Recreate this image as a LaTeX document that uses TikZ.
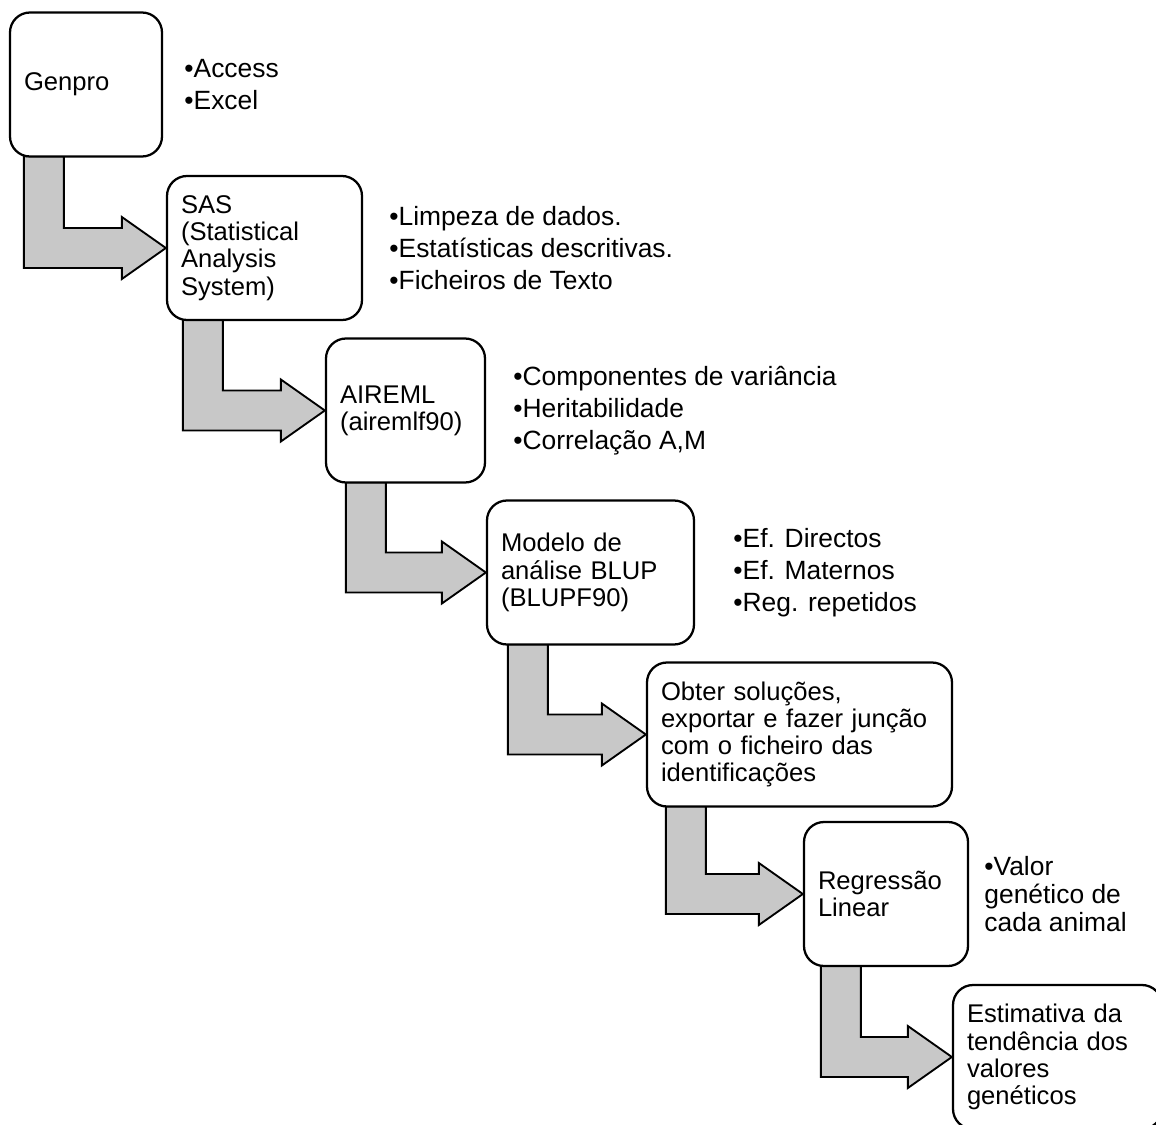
\documentclass[tikz,border=0pt]{standalone}
\usepackage{fontspec}
\setmainfont{Liberation Sans}
\usetikzlibrary{positioning,calc,backgrounds}
\definecolor{flowgray}{HTML}{C8C8C8}

\begin{document}
\begin{tikzpicture}
   [x=0.75pt,y=-0.75pt,
      stepbox/.style={shape=rectangle,rounded corners=15pt,draw=black,
      line width=1.7pt,fill=white,minimum height=108pt,inner xsep=10.5pt,
      align=left,font=\fontsize{19.2}{20.4}\selectfont},
notes/.style={inner sep=0pt,align=left,font=\fontsize{19.8}{24}\selectfont},
flow/.style={fill=flowgray,draw=black,line width=1.4pt,line join=miter}]
%%
\newcommand{\posgen}{(86,84.5)}
\newcommand{\possas}{(264.5,248)}
\newcommand{\posair}{(405.5,410.5)}
\newcommand{\posblup}{(590.5,572.5)}
\newcommand{\posobt}{(799.5,734.5)}
\newcommand{\posreg}{(886,894)}
\newcommand{\postend}{(1057.5,1057)}
%% bent arrow: from box, to box, stem offset
\newcommand{\stepflow}[3]{%
\path[flow] let \p1=(#1.south west), \p2=(#2.west) in
  (\x1+#3,\y1+1pt) -- (\x1+#3,\y2-15pt) -- (\x2-33pt,\y2-15pt)
  -- (\x2-33pt,\y2-23.25pt) -- (\p2) -- (\x2-33pt,\y2+23.25pt)
  -- (\x2-33pt,\y2+15pt) -- (\x1+#3+30pt,\y2+15pt)
  -- (\x1+#3+30pt,\y1+1pt) -- cycle;}
%%
\useasboundingbox (0,0) rectangle (1156,1124);
\clip (0,0) rectangle (1156,1124);
%%
\node (genpro) [stepbox,minimum width=114pt,text width=93pt] at \posgen {Genpro};
\node (sas) [stepbox,minimum width=146.25pt,text width=125.25pt] at \possas
{SAS\\(Statistical\\Analysis\\System)};
\node (aireml) [stepbox,minimum width=119.25pt,text width=98.25pt] at \posair
{AIREML\\(airemlf90)};
\node (blup) [stepbox,minimum width=155.25pt,text width=134.25pt] at \posblup
{Modelo de\\análise BLUP\\(BLUPF90)};
\node (obter) [stepbox,minimum width=228.75pt,text width=207.75pt] at \posobt
{Obter soluções,\\exportar e fazer junção\\com o ficheiro das\\identificações};
\node (regressao) [stepbox,minimum width=123pt,text width=102pt] at \posreg
{Regressão\\Linear};
\node (tendencia) [stepbox,minimum width=156.75pt,text width=135.75pt] at \postend
{Estimativa da\\tendência dos\\valores\\genéticos};
%%
%% notes
\node (genlist) [notes,right=15.75pt of genpro] {•Access\\•Excel};
\node (saslist) [notes,right=19.5pt of sas]
{•Limpeza de dados.\\•Estatísticas descritivas.\\•Ficheiros de Texto};
\node (airlist) [notes,right=20.25pt of aireml]
{•Componentes de variância\\•Heritabilidade\\•Correlação A,M};
\node (bluplist) [notes,right=28.5pt of blup]
{•Ef. Directos\\•Ef. Maternos\\•Reg. repetidos};
\node (reglist) [notes,right=11.25pt of regressao,font=\fontsize{19.8}{21}\selectfont]
{•Valor\\genético de\\cada animal};
%%
\begin{scope}[on background layer]
\stepflow{genpro}{sas}{11.25pt}
\stepflow{sas}{aireml}{12.75pt}
\stepflow{aireml}{blup}{15.75pt}
\stepflow{blup}{obter}{16.5pt}
\stepflow{obter}{regressao}{15pt}
\stepflow{regressao}{tendencia}{13.5pt}
\end{scope}
\end{tikzpicture}
\end{document}
